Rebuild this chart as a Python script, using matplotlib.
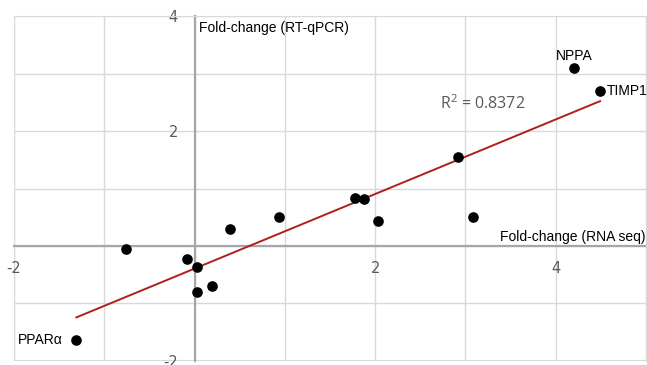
import numpy as np
import matplotlib.pyplot as plt
from matplotlib.ticker import MultipleLocator, FuncFormatter

plt.rcParams['mathtext.fontset'] = 'custom'
plt.rcParams['mathtext.rm'] = 'Open Sans'
plt.rcParams['mathtext.it'] = 'Open Sans'

# fold-change values
rna_seq = [4.20, 4.49, 2.92, 1.78, 1.88, 2.03, 3.08, -0.76, -0.08, 0.03, 0.03, 0.19, 0.39, 0.94, -1.31]
rt_qpcr = [3.09, 2.69, 1.54, 0.84, 0.81, 0.43, 0.51, -0.05, -0.22, -0.37, -0.80, -0.69, 0.30, 0.51, -1.63]
genes = ['NPPA', 'TIMP1', '', '', '', '', '', '', '', '', '', '', '', '', 'PPARα']
r2_text = r'R$^{\mathrm{2}}$ = 0.8372'

x = np.array(rna_seq)
y = np.array(rt_qpcr)

fig = plt.figure(figsize=(6.47, 3.65), dpi=100)
ax = fig.add_axes([0.0216, 0.011, 0.977, 0.945])

ax.set_xlim(-2, 5)
ax.set_ylim(-2, 4)
ax.xaxis.set_major_locator(MultipleLocator(1))
ax.yaxis.set_major_locator(MultipleLocator(1))

def even_only(v, pos):
    if abs(v) < 1e-9 or int(round(v)) % 2:
        return ''
    return '%d' % round(v)

ax.xaxis.set_major_formatter(FuncFormatter(even_only))
ax.yaxis.set_major_formatter(FuncFormatter(even_only))
ax.tick_params(length=0, labelsize=10.5, labelcolor='#595959')
ax.tick_params(axis='y', pad=12)
ax.tick_params(axis='x', pad=11)
for lab in ax.get_xticklabels() + ax.get_yticklabels():
    lab.set_family('Lato')

ax.grid(True, color='#d9d9d9', linewidth=1)
ax.set_axisbelow(True)

ax.spines['left'].set_position('zero')
ax.spines['bottom'].set_position('zero')
for s in ['left', 'bottom']:
    ax.spines[s].set_color('#a6a6a6')
    ax.spines[s].set_linewidth(1.6)
    ax.spines[s].set_zorder(1.5)
for s in ['top', 'right']:
    ax.spines[s].set_color('#d9d9d9')
ax.axvline(-2, color='#d9d9d9', lw=1.5, zorder=0)
ax.axhline(-2, color='#d9d9d9', lw=1.5, zorder=0)

# linear trendline
m, b = np.polyfit(x, y, 1)
xs = np.array([x.min(), x.max()])
ax.plot(xs, m * xs + b, color='#b01e1e', lw=1.4, zorder=2)

ax.scatter(x, y, s=44, color='black', zorder=3)

for gx, gy, g in zip(x, y, genes):
    if g == 'NPPA':
        ax.annotate(g, (gx, gy), xytext=(0, 9), textcoords='offset points',
                    ha='center', va='center', fontsize=10, family='Liberation Sans')
    elif g == 'TIMP1':
        ax.annotate(g, (gx, gy), xytext=(5, 0), textcoords='offset points',
                    ha='left', va='center', fontsize=10, family='Liberation Sans')
    elif g:
        ax.annotate(g, (gx, gy), xytext=(-10, 0), textcoords='offset points',
                    ha='right', va='center', fontsize=10, family='Liberation Sans')

ax.text(3.19, 2.48, r2_text, fontsize=11.5, color='#595959', family='Open Sans',
        ha='center', va='center')

ax.text(0.05, 3.8, 'Fold-change (RT-qPCR)', fontsize=10, family='Liberation Sans',
        ha='left', va='center')
ax.text(4.99, 0.16, 'Fold-change (RNA seq)', fontsize=10, family='Liberation Sans',
        ha='right', va='center')

plt.savefig('out.png', dpi=100)
